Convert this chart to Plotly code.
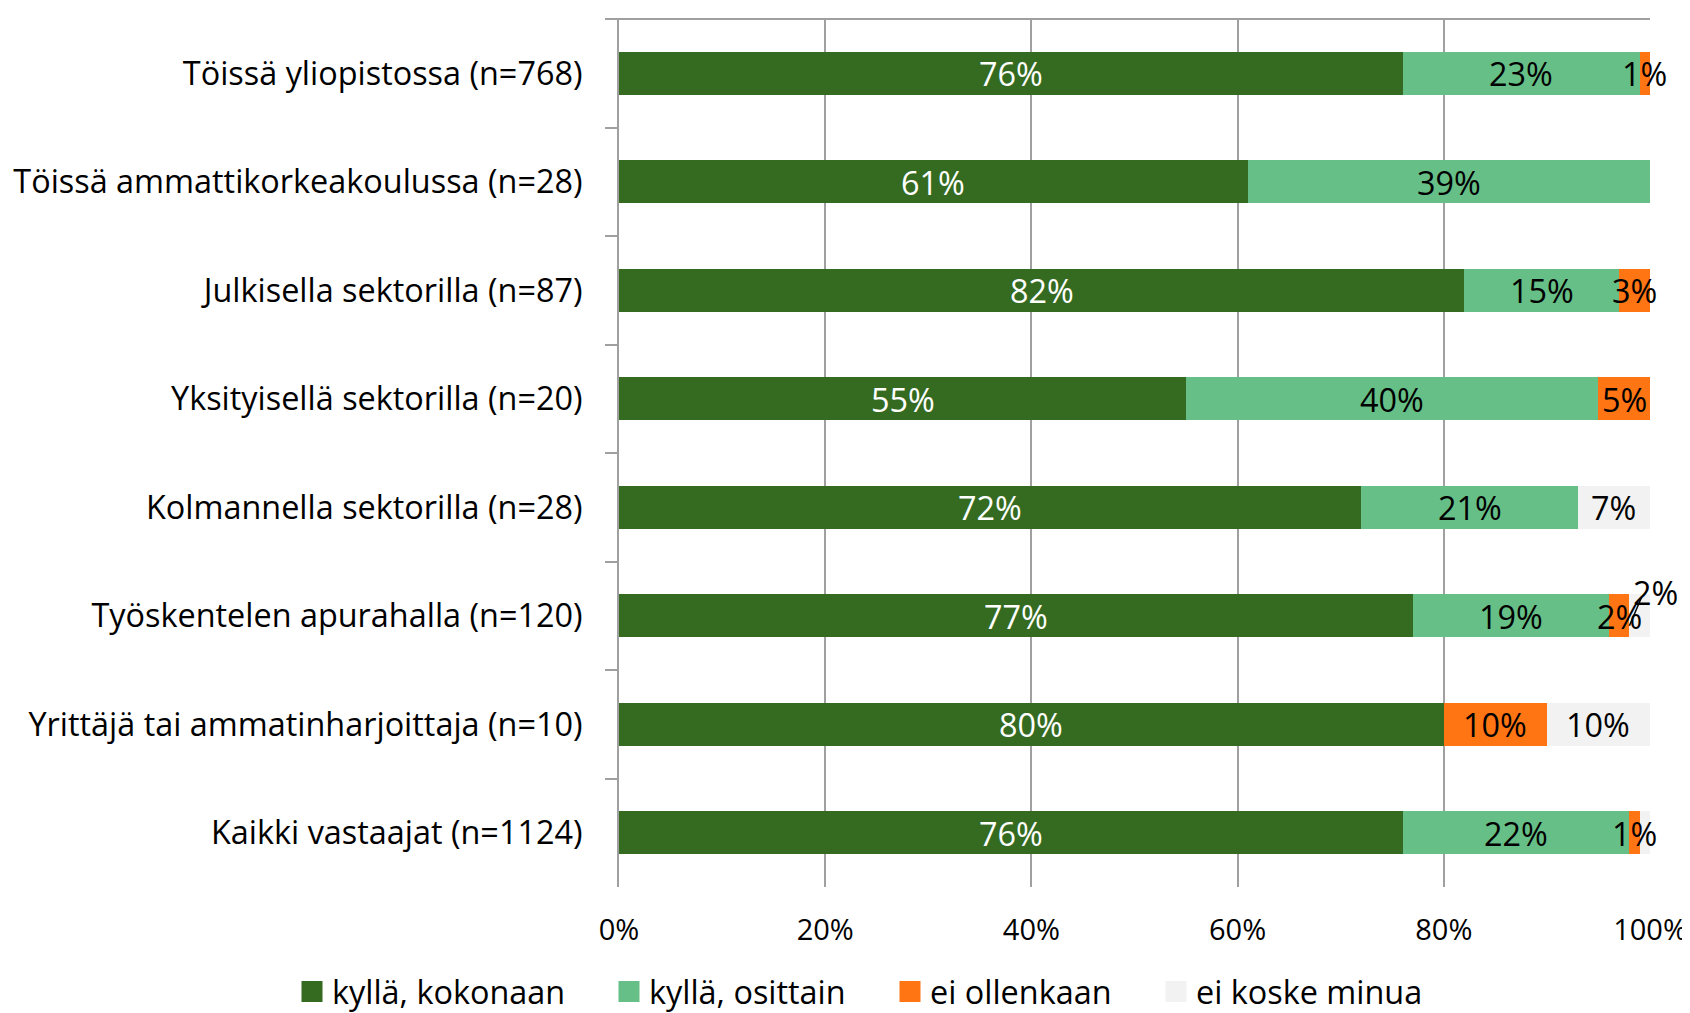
import plotly.graph_objects as go

categories = [
    "Töissä yliopistossa (n=768)",
    "Töissä ammattikorkeakoulussa (n=28)",
    "Julkisella sektorilla (n=87)",
    "Yksityisellä sektorilla (n=20)",
    "Kolmannella sektorilla (n=28)",
    "Työskentelen apurahalla (n=120)",
    "Yrittäjä tai ammatinharjoittaja (n=10)",
    "Kaikki vastaajat (n=1124)",
]
kylla_kokonaan = [76, 61, 82, 55, 72, 77, 80, 76]
kylla_osittain = [23, 39, 15, 40, 21, 19, 0, 22]
ei_ollenkaan = [1, 0, 3, 5, 0, 2, 10, 1]
ei_koske = [0, 0, 0, 0, 7, 2, 10, 1]
# which grey-series labels sit inside the bar (one is called out, one is not shown)
ei_koske_inside = [True, True, True, True, True, False, True, False]
xticks = [0, 20, 40, 60, 80, 100]

series = [
    ("kyllä, kokonaan", kylla_kokonaan, "#356B21", "white"),
    ("kyllä, osittain", kylla_osittain, "#66BF86", "black"),
    ("ei ollenkaan", ei_ollenkaan, "#FF7514", "black"),
    ("ei koske minua", ei_koske, "#F2F2F2", "black"),
]

FONT = "Open Sans"
FS = 32.4    # category labels, data labels, legend
FS_TICK = 29 # value axis tick labels

# page body has an 8px margin, so the figure is drawn 8px in from the corner
W, H = 1682, 1005
ML, MR, MT, MB = 611, 40, 11, 126

fig = go.Figure()
legend_ids = ["legend", "legend2", "legend3", "legend4"]
cum = [0] * len(categories)
for (name, vals, color, tcolor), lid in zip(series, legend_ids):
    fig.add_trace(go.Bar(
        name=name, y=categories, x=vals, orientation="h",
        marker=dict(color=color, line=dict(width=0)),
        hoverinfo="skip", showlegend=False,
    ))
    # legend entry with a larger square swatch
    fig.add_trace(go.Scatter(
        name=name, x=[None], y=[None], mode="markers",
        marker=dict(symbol="square", size=16, color=color,
                    line=dict(width=5, color=color)),
        hoverinfo="skip", showlegend=True, legend=lid,
    ))
    # data labels drawn on top of all bars
    for i, (cat, v) in enumerate(zip(categories, vals)):
        show = v > 0 and (name != "ei koske minua" or ei_koske_inside[i])
        if show:
            fig.add_annotation(
                x=cum[i] + v / 2, y=cat, text=f"{v}%", showarrow=False,
                font=dict(size=FS, family=FONT, color=tcolor),
                xanchor="center", yanchor="middle",
            )
        cum[i] += v

# callout label (with leader line) for the small grey segment of "Työskentelen apurahalla"
idx = 5
anchor_x = kylla_kokonaan[idx] + kylla_osittain[idx] + ei_ollenkaan[idx]
fig.add_shape(type="line", xref="x", yref="y", layer="above",
              xsizemode="pixel", xanchor=anchor_x, x0=0, x1=12,
              ysizemode="pixel", yanchor=idx, y0=-10, y1=18,
              line=dict(color="black", width=1.5))
fig.add_annotation(
    x=anchor_x, y=categories[idx], xshift=26, yshift=24, text=f"{ei_koske[idx]}%",
    showarrow=False, font=dict(size=FS, family=FONT, color="black"),
    xanchor="center", yanchor="middle",
)

# top horizontal axis line
fig.add_shape(type="line", xref="paper", yref="paper", x0=-0.0116, x1=1, y0=1, y1=1,
              line=dict(color="#A0A0A0", width=2))

leg_common = dict(orientation="h", xref="container", yref="container",
                  xanchor="left", yanchor="middle", y=1 - 984 / H,
                  font=dict(size=FS, family=FONT), itemwidth=30,
                  bgcolor="rgba(0,0,0,0)", borderwidth=0)
leg_x = [284, 601, 882, 1148]

fig.update_layout(
    barmode="stack",
    bargap=0.6,
    width=W, height=H,
    margin=dict(l=ML, r=MR, t=MT, b=MB, autoexpand=False),
    plot_bgcolor="white", paper_bgcolor="white",
    font=dict(family=FONT, size=FS, color="black"),
    showlegend=True,
    legend=dict(x=leg_x[0] / W, **leg_common),
    legend2=dict(x=leg_x[1] / W, **leg_common),
    legend3=dict(x=leg_x[2] / W, **leg_common),
    legend4=dict(x=leg_x[3] / W, **leg_common),
    xaxis=dict(range=[0, 100], tickvals=xticks, ticktext=[f"{t}%" for t in xticks],
               showgrid=True, gridcolor="#A0A0A0", gridwidth=2, zeroline=False,
               showline=False, ticks="outside", ticklen=17, tickcolor="rgba(0,0,0,0)",
               tickfont=dict(size=FS_TICK, family=FONT), automargin=False),
    yaxis=dict(autorange="reversed", showline=True, linecolor="#A0A0A0", linewidth=2,
               ticks="outside", tickson="boundaries", ticklen=12, tickcolor="#A0A0A0",
               tickwidth=2, ticklabelstandoff=28, showgrid=False,
               tickfont=dict(size=FS, family=FONT), automargin=False),
)

fig.write_html("out.html")
